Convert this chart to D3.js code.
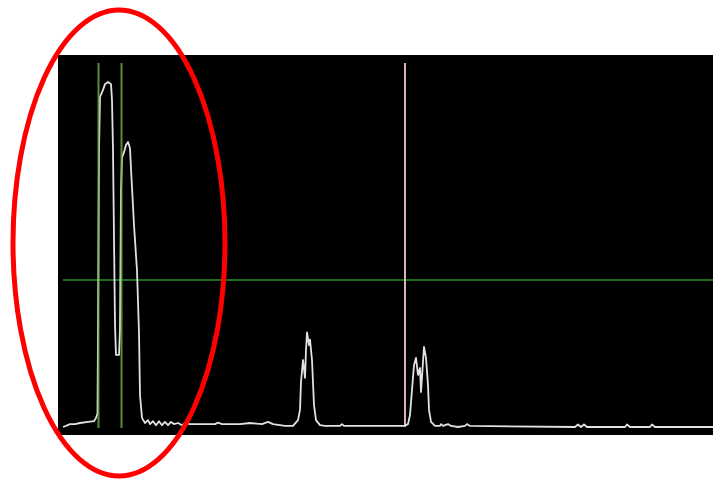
<!DOCTYPE html>
<html>
<head>
<meta charset="utf-8">
<script src="https://cdn.jsdelivr.net/npm/d3@7"></script>
<style>
  body { margin: 0; background: #fff; }
  svg { display: block; }
</style>
</head>
<body>
<script>
// trace: sample index, intensity (0-100)
var samples = [0,3,7,12,17,25,31,33,34.5,35,36,37,40,42,45,48,49,50,52,53,56,57,58,59,61,63,65,67,68,71,74,76,77,79,82,
  85,87,90,93,96,99,102,105,108,111,115,119,122,127,152,155,159,177,187,199,205,210,222,230,
  235,237,238,240,242,243,244,246,247,249,251,253,257,262,277,279,281,341,
  345,347,349,351,353,355,357,358,360,361,363,365,366,368,372,377,378,380,385,388,395,402,404,407,
  512,515,518,521,524,562,564,567,587,589,592,650];
var intensity = [0,0.3,0.8,0.8,1.1,1.4,1.6,2.5,3.8,26.6,76,90.7,92.6,94.2,94.8,94.2,89.8,76,28,19.8,19.8,26.6,65,74,75.5,77.5,78.3,76.6,71,55.5,43,25.8,8.8,2.5,1.1,
  1.9,0.8,1.6,0.5,1.6,0.5,1.4,0.5,1.4,0.8,1.1,0.5,1.1,0.8,0.8,1.2,0.8,0.8,1.1,0.8,1.4,0.8,0.3,0.3,
  1.9,4.7,12.4,18.4,13.5,21,26,22.5,24,18.4,6,1.9,0.5,0.3,0.3,0.8,0.3,0.3,
  0.8,3.3,10.2,17,19,14.3,16.2,9.6,17.9,22,19,11.5,4.7,1.4,0.3,0.3,0.8,0.3,0.8,0.3,0,0.3,0.8,0.3,
  0,0.7,0,0.7,0,0,0.7,0,0,0.7,0,0];

var cursors = [35.5, 58.5];   // green gate cursors
var marker = [342];           // pink marker
var threshold = [40.4];       // green level line

var width = 713, height = 481;

var svg = d3.select("body").append("svg")
    .attr("width", width)
    .attr("height", height);

var x = d3.scaleLinear().domain([0, 650]).range([63, 713]);
var y = d3.scaleLinear().domain([0, 100]).range([427, 63]);

// black screen
svg.append("rect")
    .attr("x", x(0) - 5).attr("y", y(100) - 8)
    .attr("width", width - x(0) + 5).attr("height", y(0) - y(100) + 16)
    .attr("fill", "#000");

svg.selectAll(".level").data(threshold).enter().append("line")
    .attr("x1", x(0)).attr("x2", x(650))
    .attr("y1", function(d){ return y(d); }).attr("y2", function(d){ return y(d); })
    .attr("stroke", "#1f6b1f").attr("stroke-width", 2);

svg.selectAll(".marker").data(marker).enter().append("line")
    .attr("x1", function(d){ return x(d); }).attr("x2", function(d){ return x(d); })
    .attr("y1", y(100)).attr("y2", y(0))
    .attr("stroke", "#d8b4b8").attr("stroke-width", 2);

var pts = samples.map(function(s, i){ return [s, intensity[i]]; });

svg.append("path")
    .datum(pts)
    .attr("d", d3.line().x(function(d){ return x(d[0]); }).y(function(d){ return y(d[1]); }))
    .attr("fill", "none")
    .attr("stroke", "#e2e2e2")
    .attr("stroke-width", 1.8)
    .attr("stroke-linejoin", "round");

svg.selectAll(".cursor").data(cursors).enter().append("line")
    .attr("x1", function(d){ return x(d); }).attr("x2", function(d){ return x(d); })
    .attr("y1", y(100)).attr("y2", y(0) + 1)
    .attr("stroke", "#6fb040").attr("stroke-width", 2)
    .attr("stroke-opacity", 0.8);

// red annotation ring
svg.append("ellipse")
    .attr("cx", 119).attr("cy", 243)
    .attr("rx", 106).attr("ry", 233)
    .attr("fill", "none")
    .attr("stroke", "#ff0000")
    .attr("stroke-width", 5);
</script>
</body>
</html>
